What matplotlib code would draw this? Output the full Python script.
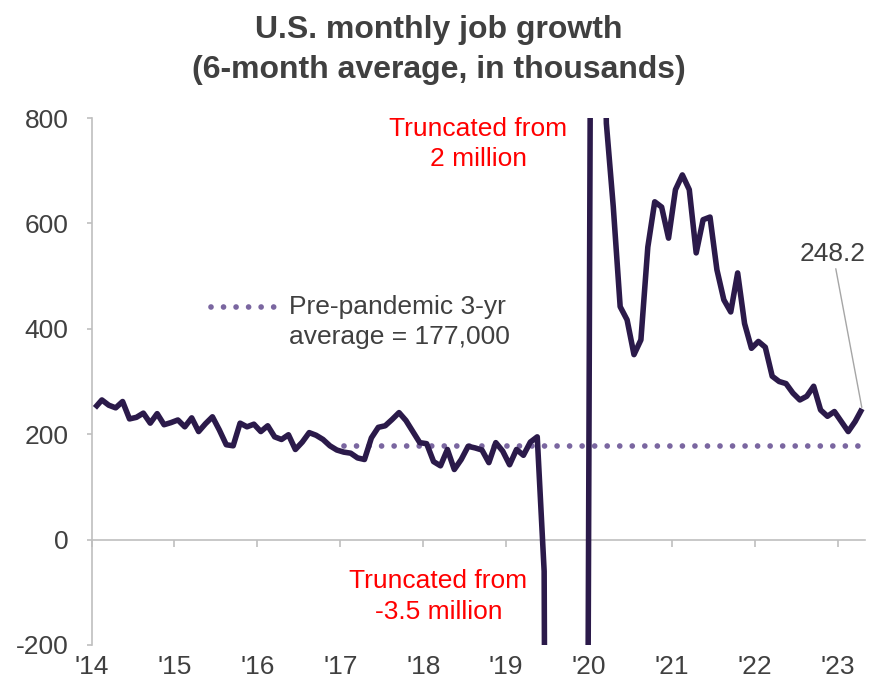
import numpy as np
import matplotlib
matplotlib.use("Agg")
import matplotlib.pyplot as plt

plt.rcParams['font.family'] = ['Liberation Sans', 'DejaVu Sans']
plt.rcParams['axes.unicode_minus'] = False

# 6-month average of monthly payroll change, thousands (one value per month)
jobs_6m = [
    250, 265, 255, 250, 262, 229, 232, 240, 221, 239, 218, 222,
    227, 214, 231, 205, 220, 233, 208, 180, 178, 221, 214, 219,
    205, 216, 195, 190, 199, 171, 185, 203, 198, 190, 178, 170,
    166, 164, 155, 152, 193, 213, 216, 228, 241, 226, 205, 184,
    182, 148, 140, 171, 133, 152, 177, 174, 170, 146, 184, 168,
    142, 171, 160, 185, 195, -60, -3500, -3070, -2300, -2070, -1870, -1500,
    2000, 1600, 790, 632, 442, 417, 351, 379, 555, 641, 631, 572,
    664, 692, 664, 544, 607, 612, 512, 455, 432, 506, 410, 363,
    376, 365, 310, 300, 296, 278, 265, 272, 291, 246, 234, 243,
    224, 205, 224, 248.2,
]
year_labels = ["'14", "'15", "'16", "'17", "'18", "'19", "'20", "'21", "'22", "'23"]
pre_pandemic_avg = 177
avg_start = 36   # Jan 2017

months = np.arange(len(jobs_6m))

line_col = '#2b1a4a'
dot_col = '#7a66a0'
text_col = '#404040'
axis_col = '#bfbfbf'
dotted = (0, (0.001, 2.2))

fig = plt.figure(figsize=(8.78, 6.88), dpi=100)
ax = fig.add_axes([91.5 / 878, 1 - 645 / 688, 774 / 878, 527 / 688])

ax.plot(months, jobs_6m, color=line_col, lw=4.0, solid_joinstyle='round',
        solid_capstyle='butt', zorder=3)

# dotted 3-yr average
avg_x = months[avg_start:]
ax.plot(avg_x, [pre_pandemic_avg] * len(avg_x), color=dot_col, lw=4.1,
        linestyle=dotted, dash_capstyle='round', zorder=2)

ax.set_xlim(-0.5, len(jobs_6m) - 0.5)
ax.set_ylim(-200, 800)
ax.set_yticks([-200, 0, 200, 400, 600, 800])
ax.set_xticks(np.arange(0, len(jobs_6m), 12) - 0.5)
ax.set_xticklabels(year_labels)

for s in ['top', 'right']:
    ax.spines[s].set_visible(False)
ax.spines['bottom'].set_position(('data', 0))
ax.spines['bottom'].set_color(axis_col)
ax.spines['left'].set_color(axis_col)
ax.spines['bottom'].set_linewidth(1.2)
ax.spines['left'].set_linewidth(1.2)

ax.tick_params(axis='y', direction='out', length=3.6, width=1.2, color=axis_col,
               labelsize=19, labelcolor=text_col, pad=13)
ax.tick_params(axis='x', direction='out', length=5, width=1.2, color=axis_col,
               labelsize=19, labelcolor=text_col, pad=78)

fig.text(0.5, 1 - 30 / 688, 'U.S. monthly job growth', ha='center', va='center',
         fontsize=23, fontweight='bold', color=text_col)
fig.text(0.5, 1 - 70 / 688, '(6-month average, in thousands)', ha='center',
         va='center', fontsize=23, fontweight='bold', color=text_col)

ax.text(55.5, 750, 'Truncated from\n2 million', ha='center', va='center',
        fontsize=19, color='#ff0000', linespacing=1.32)
ax.text(49.7, -108, 'Truncated from\n-3.5 million', ha='center', va='center',
        fontsize=19, color='#ff0000', linespacing=1.32)

# legend key for the average line
ax.plot([16.8, 26.1], [442, 442], color=dot_col, lw=4.1,
        linestyle=dotted, dash_capstyle='round')
ax.text(28.1, 413, 'Pre-pandemic 3-yr\naverage = 177,000', ha='left',
        va='center', fontsize=19, color=text_col, linespacing=1.32)

ax.annotate(f'{jobs_6m[-1]:.1f}', xy=(months[-1], jobs_6m[-1]),
            xytext=(106.8, 542), ha='center', va='center', fontsize=19,
            color=text_col,
            arrowprops=dict(arrowstyle='-', color='#a6a6a6', lw=1,
                            shrinkA=0, shrinkB=1))

fig.savefig('out.png', dpi=100)
